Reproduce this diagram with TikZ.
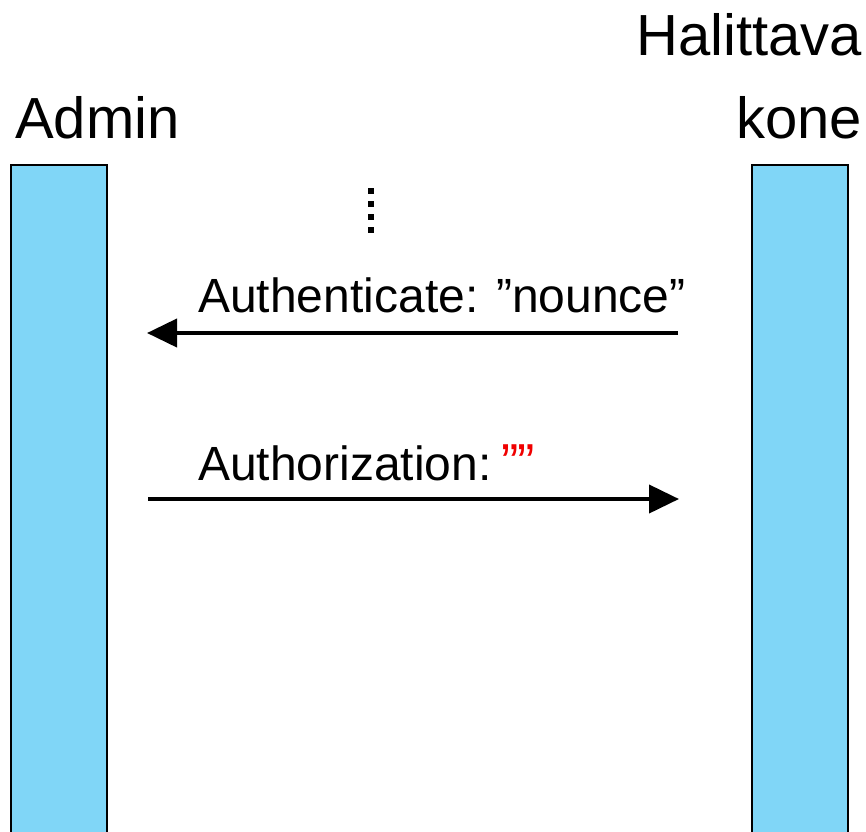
\documentclass[tikz,border=0pt]{standalone}
\usepackage{fontspec}
\setmainfont{Liberation Sans}
\usetikzlibrary{arrows.meta}
\definecolor{barblue}{RGB}{128,214,247}
\definecolor{quotered}{RGB}{240,0,0}
\begin{document}
\begin{tikzpicture}[x=1pt,y=-1pt,
  lifeline/.style={draw=black,line width=2pt,fill=barblue,rectangle,inner sep=0pt,
    minimum width=96pt,minimum height=700pt,anchor=north west},
  head/.style={inner sep=0pt,font=\fontsize{58}{60}\selectfont},
  msg/.style={inner sep=0pt,anchor=base west,font=\fontsize{48}{50}\selectfont},
  msgarrow/.style={line width=4pt,-{Triangle[length=30pt,width=28pt]}}]
\useasboundingbox (0,0) rectangle (866,831);
\node[lifeline] (admin) at (10,164) {};
\node[lifeline] (kone) at (751,164) {};
\node[head,anchor=base west] (adminlabel) at (15,138) {Admin};
\node[head,anchor=base east] (konelabel1) at (862,55) {Halittava};
\node[head,anchor=base east] (konelabel2) at (862,138) {kone};
\draw[line width=6pt,dash pattern=on 6pt off 7pt] (371,188) -- (371,233);
\coordinate (a1s) at (678,333);
\coordinate (a1e) at (147,333);
\coordinate (a2s) at (148,499);
\coordinate (a2e) at (679,499);
\node[msg] (m1) at (198,312) {Authenticate: ”nounce”};
\node[msg] (m2) at (198,480) {Authorization:\hspace{0.2em}\textcolor{quotered}{\fontsize{52}{54}\selectfont ”\kern-0.02em”}};
\draw[msgarrow] (a1s) -- (a1e);
\draw[msgarrow] (a2s) -- (a2e);
\end{tikzpicture}
\end{document}
